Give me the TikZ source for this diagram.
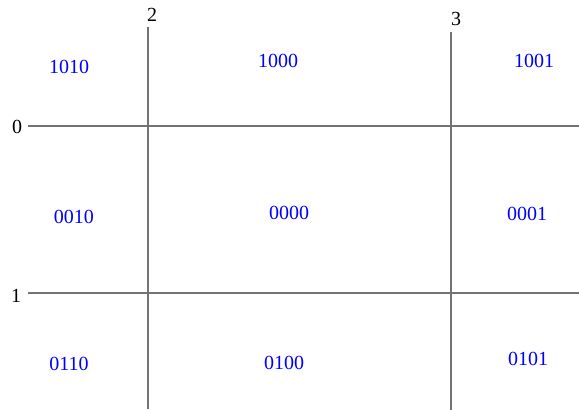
\documentclass[tikz,border=0pt]{standalone}
\usepackage{fontspec}
\setmainfont{Liberation Serif}
\usepackage{xcolor}
\usepackage{tikz}
\usetikzlibrary{positioning}

\begin{document}
\begin{tikzpicture}[x=0.5pt,y=-0.5pt]
  \tikzstyle{edge}=[draw=black!55,line width=0.6pt]
  \tikzstyle{code}=[text=blue,inner sep=0pt,font=\fontsize{10}{12}\selectfont]
  \tikzstyle{tag}=[inner sep=0pt,font=\fontsize{10}{12}\selectfont]
  \useasboundingbox (0,0) rectangle (579,410);
  % clip boundaries
  \node[tag] (t0) at (17,127) {0};
  \node[tag] (t1) at (16,296) {1};
  \node[tag] (t2) at (152,15) {2};
  \node[tag] (t3) at (456,19) {3};
  \coordinate (a0) at (28,126);  \coordinate (b0) at (579,126);
  \coordinate (a1) at (28,293);  \coordinate (b1) at (579,293);
  \coordinate (a2) at (148,27);  \coordinate (b2) at (148,409);
  \coordinate (a3) at (451,32);  \coordinate (b3) at (451,410);
  \foreach \i in {0,1,2,3}
    \draw[edge] (a\i) -- (b\i);
  % region codes
  \node[code] (c1010) at (69,67) {1010};
  \node[code] (c1000) at (278,61) {1000};
  \node[code] (c1001) at (534,61) {1001};
  \node[code] (c0010) at (74,217) {0010};
  \node[code] (c0000) at (289,213) {0000};
  \node[code] (c0001) at (527,214) {0001};
  \node[code] (c0110) at (69,364) {0110};
  \node[code] (c0100) at (284,363) {0100};
  \node[code] (c0101) at (528,359) {0101};
\end{tikzpicture}
\end{document}
